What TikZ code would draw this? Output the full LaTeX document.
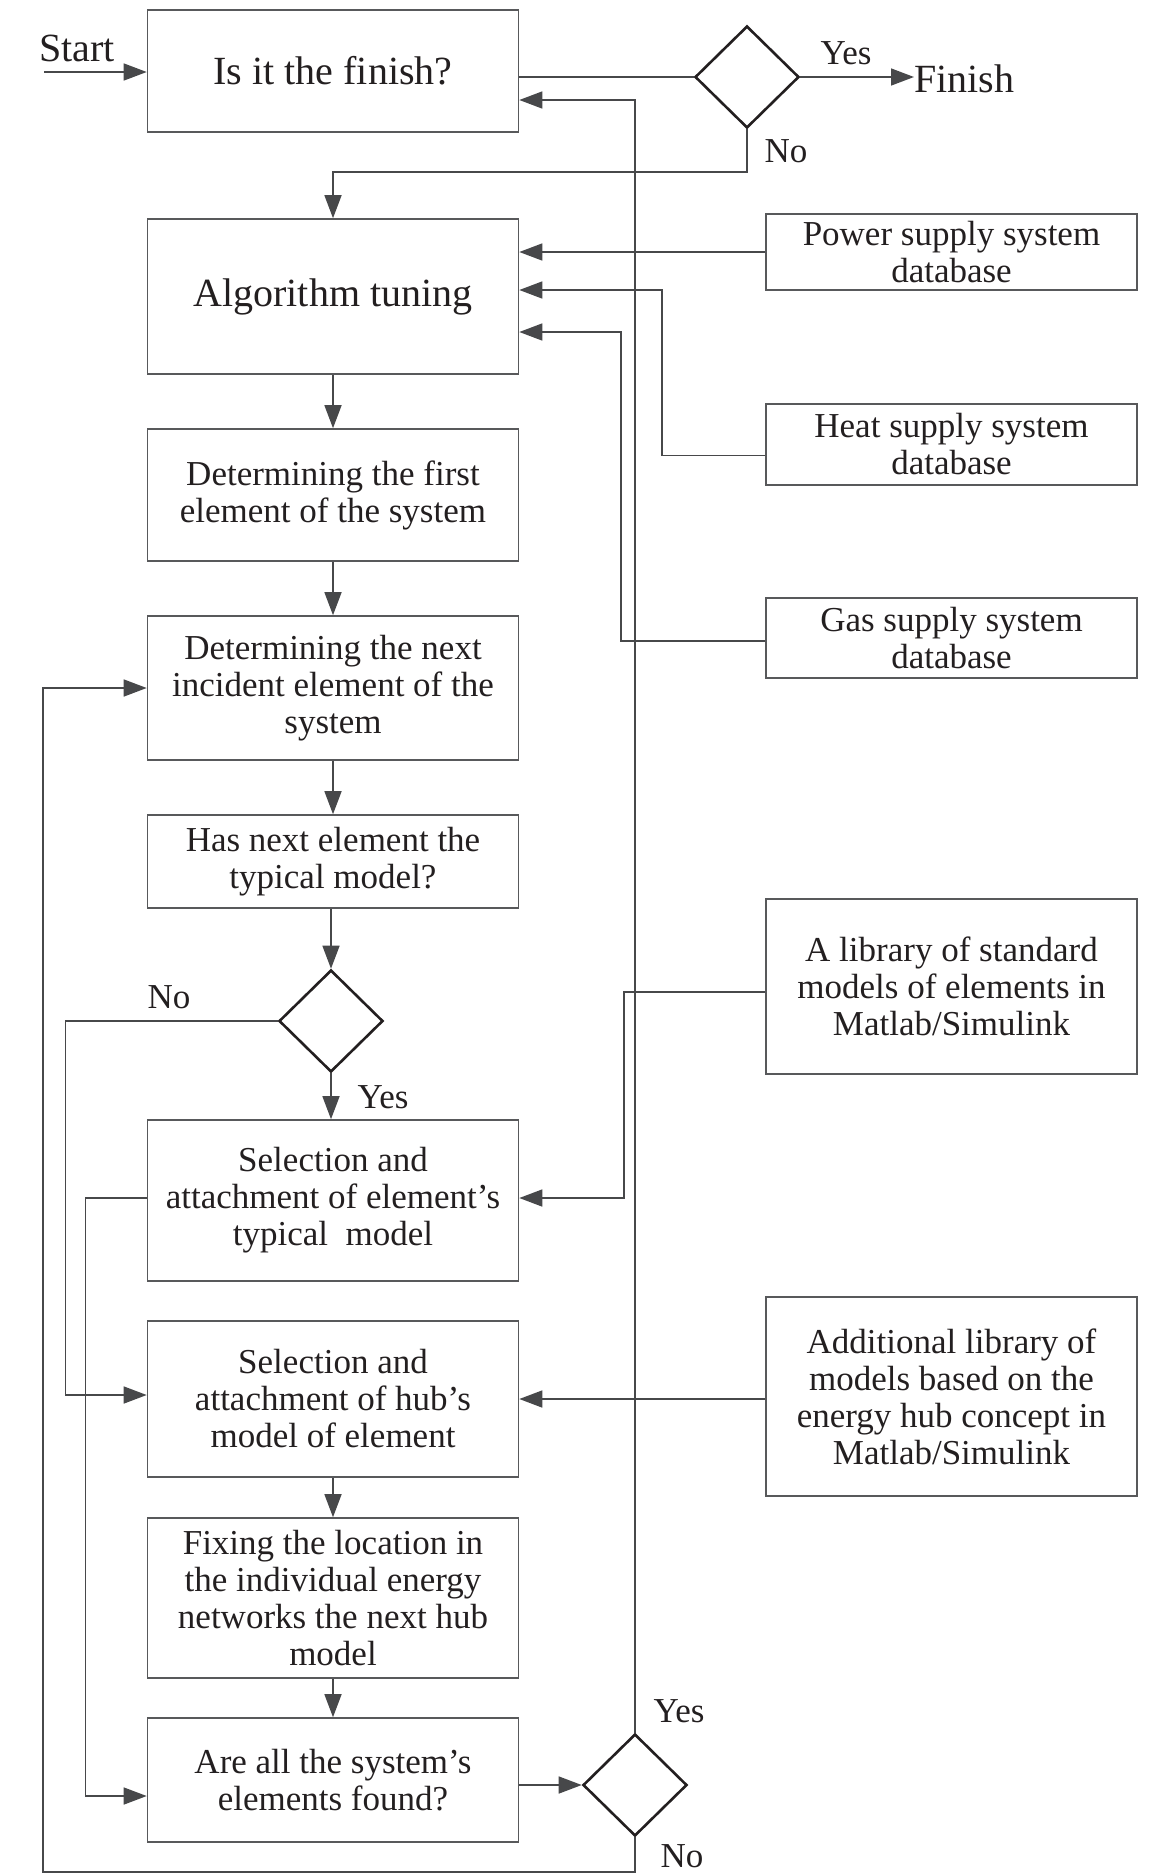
\documentclass[tikz,border=0pt]{standalone}
\usepackage{fontspec}
\setmainfont{Liberation Serif}
\usetikzlibrary{shapes.geometric,arrows.meta,calc}
\definecolor{linegray}{HTML}{47484A}
\definecolor{boxgray}{HTML}{58595B}
\definecolor{inkblack}{HTML}{231F20}

\begin{document}
\begin{tikzpicture}[x=0.5pt,y=0.5pt,
		every node/.style={inner sep=0pt,text=inkblack},
		block/.style={draw=boxgray,line width=0.8pt,minimum width=185.5pt,align=center,font=\fontsize{17.5}{18.5}\selectfont},
		bigblock/.style={block,font=\fontsize{20}{22}\selectfont},
		decision/.style={diamond,draw=inkblack,line width=1.3pt,minimum width=52pt,minimum height=51pt},
		lbl/.style={font=\fontsize{17.5}{18.5}\selectfont},
		conn/.style={draw=linegray,line width=0.75pt},
		arr/.style={conn,-{Triangle[length=11.5pt,width=8.5pt]}}]
		\useasboundingbox (0,0) rectangle (1165,-1875);
		\node (finbox) at (333,-71) [bigblock,minimum height=61pt] {Is it the finish?};
		\node (tuning) at (333,-296.5) [bigblock,minimum height=77.5pt] {Algorithm tuning};
		\node (first) at (333,-495) [block,minimum height=66pt] {Determining the first\\element of the system};
		\node (next) at (333,-688) [block,minimum height=72pt] {Determining the next\\incident element of the\\system};
		\node (hasnext) at (333,-861.5) [block,minimum height=46.5pt] {Has next element the\\typical model?};
		\node (sel) at (333,-1200.5) [block,minimum height=80.5pt] {Selection and\\attachment of element’s\\typical\ \ model};
		\node (hub) at (333,-1399) [block,minimum height=78pt] {Selection and\\attachment of hub’s\\model of element};
		\node (fix) at (333,-1598) [block,minimum height=80pt] {Fixing the location in\\the individual energy\\networks the next hub\\model};
		\node (found) at (333,-1780) [block,minimum height=62pt] {Are all the system’s\\elements found?};
		\node (power) at (951.5,-252) [block,minimum height=38pt] {Power supply system\\database};
		\node (heat) at (951.5,-444.5) [block,minimum height=40.5pt] {Heat supply system\\database};
		\node (gas) at (951.5,-638) [block,minimum height=40pt] {Gas supply system\\database};
		\node (stdlib) at (951.5,-986.5) [block,minimum height=87.5pt] {A library of standard\\models of elements in\\Matlab/Simulink};
		\node (hublib) at (951.5,-1396.5) [block,minimum height=99.5pt] {Additional library of\\models based on the\\energy hub concept in\\Matlab/Simulink};
		\node (askfin) at (747,-77) [decision] {};
		\node (askmodel) at (331,-1021) [decision] {};
		\node (askall) at (635,-1785) [decision] {};
		\node (start) at (77,-48) [font=\fontsize{20}{22}\selectfont] {Start};
		\node (finish) at (914,-79) [anchor=west,font=\fontsize{20}{22}\selectfont] {Finish};
		\node (yesfin) at (846,-53) [lbl] {Yes};
		\node (nofin) at (786,-151) [lbl] {No};
		\node (nomodel) at (169,-997) [lbl] {No};
		\node (yesmodel) at (383,-1097) [lbl] {Yes};
		\node (yesall) at (679,-1711) [lbl] {Yes};
		\node (noall) at (682,-1856) [lbl] {No};
		\coordinate (entry) at (44,-72);
		\coordinate (nobend) at (747,-172);
		\coordinate (outer) at (43,-1872);
		\draw [arr] (entry) -- (entry-|finbox.west);
		\draw [conn] (askfin.west) -- (askfin.west-|finbox.east);
		\draw [arr] (askfin.east) -- (askfin.east-|finish.west);
		\draw [arr] (askfin.south) -- (nobend) -| (tuning.north);
		\draw [arr] (askall.north) |- ($(finbox.east)+(0,-29)$);
		\draw [arr] (power.west) -- (power.west-|tuning.east);
		\draw [arr] ($(heat.west)+(0,-11)$) -- ++(-103,0) |- ($(tuning.east)+(0,6.5)$);
		\draw [arr] ($(gas.west)+(0,-3)$) -- ++(-144,0) |- ($(tuning.east)+(0,-35.5)$);
		\draw [arr] (tuning) -- (first);
		\draw [arr] (first) -- (next);
		\draw [arr] (next) -- (hasnext);
		\draw [arr] (hasnext.south-|askmodel.north) -- (askmodel.north);
		\draw [arr] (askmodel.south) -- (askmodel.south|-sel.north);
		\draw [arr] (hub) -- (fix);
		\draw [arr] (fix) -- (found);
		\draw [arr] (askmodel.west) -- ++(-212,0) |- ($(hub.west)+(0,4)$);
		\draw [arr] ($(sel.west)+(0,2.5)$) -- ++(-61,0) |- ($(found.west)+(0,-16)$);
		\draw [arr] ($(stdlib.west)+(0,-5.5)$) -- ++(-141,0) |- ($(sel.east)+(0,2.5)$);
		\draw [arr] (hub.east-|hublib.west) -- (hub.east);
		\draw [arr] (found.east|-askall.west) -- (askall.west);
		\draw [arr] (askall.south) |- (outer) |- (next.west);
	\end{tikzpicture}
\end{document}
